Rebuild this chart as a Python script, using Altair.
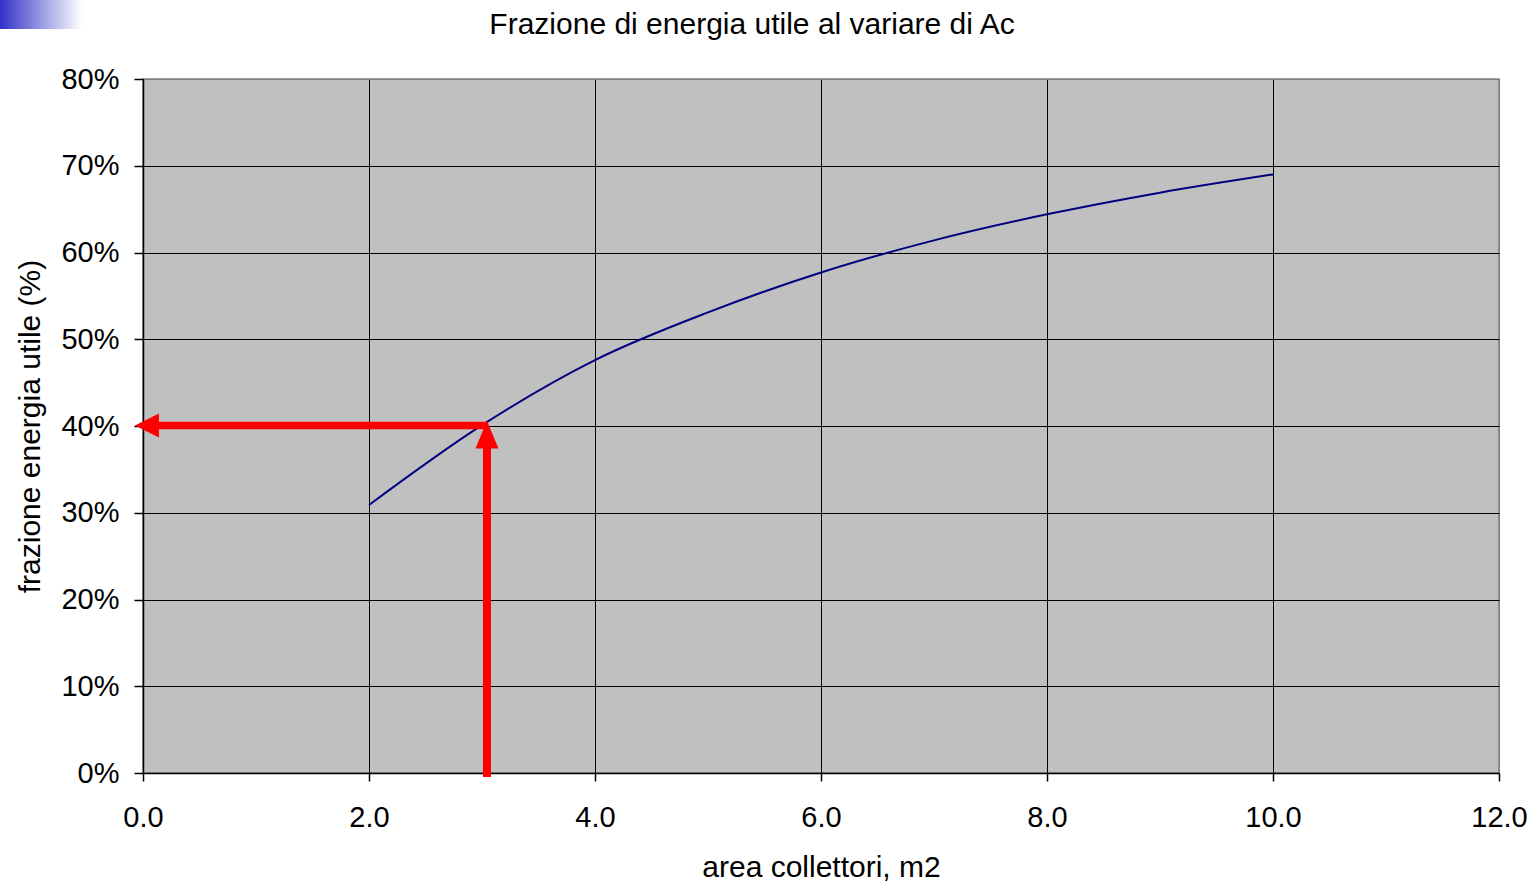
import altair as alt
import pandas as pd

# Curve data
area = [2, 3, 4, 5, 6, 7, 8, 9, 10]
frazione = [0.309, 0.401, 0.476, 0.531, 0.577, 0.614, 0.644, 0.669, 0.690]

# Arrow annotation (data units)
arrow_x = [3.044]
arrow_y = [0.4006]
arrow_h_start = [0.10]
arrow_v_start = [-0.0046]
arrow_v_end = [0.39]
head_h_x = [0.035]
head_v_y = [0.39]

title_text = ["Frazione di energia utile al variare di Ac"]

FONT = "Liberation Sans"

curve_df = pd.DataFrame({"area": area, "frazione": frazione})

xscale = alt.Scale(domain=[0, 12], nice=False)
yscale = alt.Scale(domain=[0, 0.8], nice=False)

x_axis = alt.Axis(
    values=[0, 2, 4, 6, 8, 10, 12], format=".1f", title="area collettori, m2",
    tickSize=8, labelPadding=22, titlePadding=20, labelFlush=False,
    gridColor={"condition": {"test": "datum.value >= 12", "value": "#808080"}, "value": "black"},
)
y_axis = alt.Axis(
    values=[0, 0.1, 0.2, 0.3, 0.4, 0.5, 0.6, 0.7, 0.8], format=".0%",
    title="frazione energia utile (%)",
    tickSize=9, labelPadding=15, titlePadding=15, labelFlush=False,
    gridColor={"condition": {"test": "datum.value >= 0.8", "value": "#808080"}, "value": "black"},
)

curve = alt.Chart(curve_df).mark_line(
    color="#000080", strokeWidth=2, interpolate="monotone"
).encode(
    x=alt.X("area:Q", scale=xscale, axis=x_axis),
    y=alt.Y("frazione:Q", scale=yscale, axis=y_axis),
)

h_df = pd.DataFrame({"x1": arrow_h_start, "x2": arrow_x, "y": arrow_y})
h_rule = alt.Chart(h_df).mark_rule(color="#FF0000", strokeWidth=7.5).encode(
    x=alt.X("x1:Q", scale=xscale), x2="x2:Q", y=alt.Y("y:Q", scale=yscale)
)

v_df = pd.DataFrame({"x": arrow_x, "y1": arrow_v_start, "y2": arrow_v_end})
v_rule = alt.Chart(v_df).mark_rule(color="#FF0000", strokeWidth=8).encode(
    x=alt.X("x:Q", scale=xscale), y=alt.Y("y1:Q", scale=yscale), y2="y2:Q"
)

hh_df = pd.DataFrame({"x": head_h_x, "y": arrow_y})
h_head = alt.Chart(hh_df).mark_point(
    shape="M-1,0L1,-1L1,1Z", filled=True, fill="#FF0000", stroke="#FF0000",
    strokeWidth=0, opacity=1, size=576
).encode(x=alt.X("x:Q", scale=xscale), y=alt.Y("y:Q", scale=yscale))

vh_df = pd.DataFrame({"x": arrow_x, "y": head_v_y})
v_head = alt.Chart(vh_df).mark_point(
    shape="M0,-1.2L1,1.2L-1,1.2Z", filled=True, fill="#FF0000", stroke="#FF0000",
    strokeWidth=0, opacity=1, size=529
).encode(x=alt.X("x:Q", scale=xscale), y=alt.Y("y:Q", scale=yscale))

grad_df = pd.DataFrame({"k": [0]})
grad = alt.Chart(grad_df).mark_rect(
    color=alt.Gradient(
        gradient="linear",
        stops=[alt.GradientStop(color="#3232C8", offset=0),
               alt.GradientStop(color="#FFFFFF", offset=1)],
        x1=0, x2=1, y1=0, y2=0,
    )
).encode(
    x=alt.value(-143), x2=alt.value(-61), y=alt.value(-79), y2=alt.value(-50)
)

title_df = pd.DataFrame({"t": title_text})
title = alt.Chart(title_df).mark_text(
    font=FONT, fontSize=30, color="black", align="center", baseline="middle"
).encode(text="t:N", x=alt.value(609), y=alt.value(-54))

chart = alt.layer(curve, h_rule, v_rule, h_head, v_head, grad, title).properties(
    width=1356, height=694,
    autosize=alt.AutoSizeParams(type="none"),
    padding={"left": 143, "top": 79, "right": 37, "bottom": 111},
    background="white",
).configure_view(
    fill="#C0C0C0", stroke="#808080", strokeWidth=1.5
).configure_axis(
    labelFont=FONT, labelFontSize=29, labelColor="black",
    titleFont=FONT, titleFontSize=30, titleFontWeight="normal", titleColor="black",
    domainColor="black", domainWidth=1.5, tickColor="black", tickWidth=1.5,
    gridOpacity=1, gridWidth=1,
)

chart.save("out.html", embed_options={"renderer": "svg", "actions": False})
